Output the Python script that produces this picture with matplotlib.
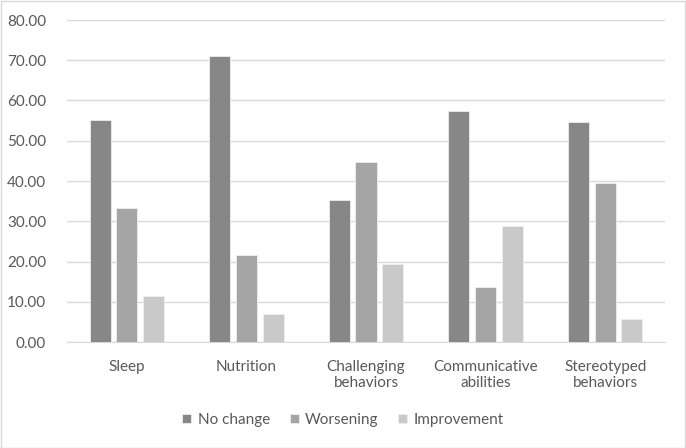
import numpy as np
import matplotlib
matplotlib.use("Agg")
from matplotlib import pyplot as plt
from matplotlib.patches import Rectangle

categories = ["Sleep", "Nutrition", "Challenging\nbehaviors", "Communicative\nabilities", "Stereotyped\nbehaviors"]
no_change = [55.1, 71.0, 35.4, 57.3, 54.6]
worsening = [33.2, 21.7, 44.7, 13.7, 39.4]
improvement = [11.5, 7.0, 19.5, 28.8, 5.8]

plt.rcParams['font.family'] = ['Lato', 'DejaVu Sans']
txt = '#595959'

fig = plt.figure(figsize=(6.86, 4.48), dpi=100)
fig.patches.append(Rectangle((0.001, 0.001), 0.997, 0.997, transform=fig.transFigure,
                             fill=False, edgecolor='#d9d9d9', linewidth=1))
ax = fig.add_axes([67/686, 1-342/448, 598/686, 322/448])

x = np.arange(len(categories))
step = 0.223
w = 0.176
series = [(no_change, '#878787', 'No change'),
          (worsening, '#a5a5a5', 'Worsening'),
          (improvement, '#c9c9c9', 'Improvement')]
for i, (vals, col, lab) in enumerate(series):
    ax.bar(x + (i-1)*step, vals, w, color=col, edgecolor='#eeeeee', linewidth=0.6, label=lab, zorder=3)

ax.set_xlim(-0.5, 4.5)
ax.set_ylim(0, 80)
ax.set_yticks(np.arange(0, 81, 10))
ax.set_yticklabels([f"{v:.2f}" for v in np.arange(0, 81, 10)])
ax.set_xticks(x)
ax.set_xticklabels(categories, linespacing=1.2)
ax.grid(axis='y', color='#d9d9d9', linewidth=1, zorder=0)
for s in ['top', 'right', 'left']:
    ax.spines[s].set_visible(False)
ax.spines['bottom'].set_color('#d9d9d9')
ax.tick_params(axis='both', length=0, labelsize=11, colors=txt)
ax.tick_params(axis='y', pad=15)
ax.tick_params(axis='x', pad=13)

fig.legend(loc='center', bbox_to_anchor=(0.5, 1-420/448), ncol=3, frameon=False,
           fontsize=11, labelcolor=txt, handlelength=0.6, handleheight=0.6,
           handletextpad=0.4, columnspacing=1.3)

fig.savefig("out.png", dpi=100)
